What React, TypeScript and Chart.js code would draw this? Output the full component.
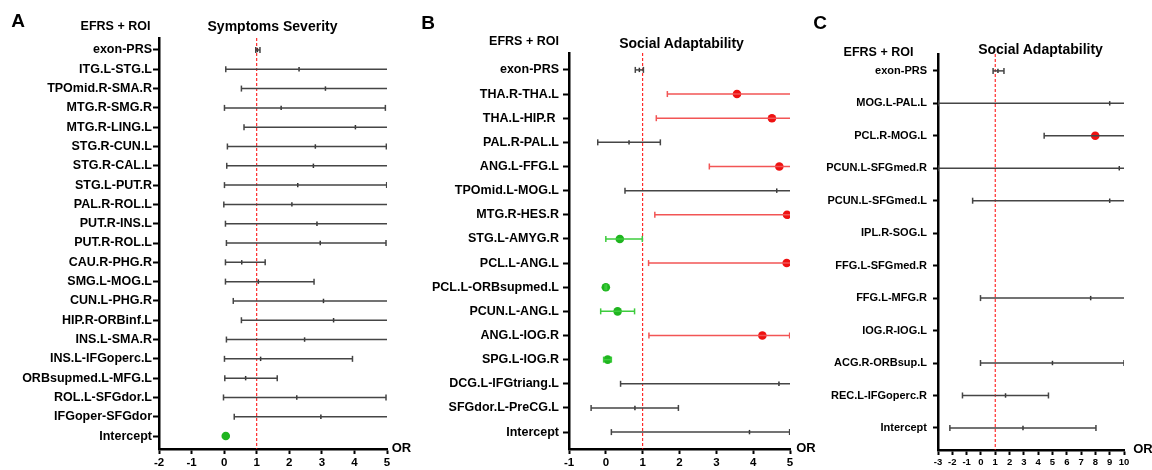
import React, { useEffect, useRef } from "react";
import { Chart, registerables } from "chart.js";
Chart.register(...registerables);

const FONT = "'Liberation Sans', Arial, Helvetica, sans-serif";

// ---------- Panel A : Symptoms Severity ----------
const labelsA = [
  "exon-PRS", "ITG.L-STG.L", "TPOmid.R-SMA.R", "MTG.R-SMG.R", "MTG.R-LING.L",
  "STG.R-CUN.L", "STG.R-CAL.L", "STG.L-PUT.R", "PAL.R-ROL.L", "PUT.R-INS.L",
  "PUT.R-ROL.L", "CAU.R-PHG.R", "SMG.L-MOG.L", "CUN.L-PHG.R", "HIP.R-ORBinf.L",
  "INS.L-SMA.R", "INS.L-IFGoperc.L", "ORBsupmed.L-MFG.L", "ROL.L-SFGdor.L",
  "IFGoper-SFGdor", "Intercept",
];
const orA = [1.02, 2.3, 3.11, 1.75, 4.03, 2.8, 2.74, 2.26, 2.08, 2.85, 2.95, 0.54, 1.05, 3.05, 3.36, 2.47, 1.12, 0.66, 2.23, 2.97, 0.05];
const lowA = [0.97, 0.05, 0.53, 0.01, 0.61, 0.1, 0.08, 0.01, -0.01, 0.04, 0.07, 0.04, 0.04, 0.28, 0.53, 0.07, 0.01, 0.02, -0.02, 0.31, null];
const highA = [1.1, 5.6, 5.6, 4.95, 5.6, 4.98, 5.6, 4.99, 5.6, 5.6, 4.97, 1.26, 2.76, 5.6, 5.6, 5.6, 3.94, 1.63, 4.97, 5.6, null];
const sigA = [0, 0, 0, 0, 0, 0, 0, 0, 0, 0, 0, 0, 0, 0, 0, 0, 0, 0, 0, 0, 2];
const xTicksA = [-2, 5];

// ---------- Panel B : Social Adaptability ----------
const labelsB = [
  "exon-PRS", "THA.R-THA.L", "THA.L-HIP.R ", "PAL.R-PAL.L", "ANG.L-FFG.L",
  "TPOmid.L-MOG.L", "MTG.R-HES.R", "STG.L-AMYG.R", "PCL.L-ANG.L",
  "PCL.L-ORBsupmed.L", "PCUN.L-ANG.L", "ANG.L-IOG.R", "SPG.L-IOG.R",
  "DCG.L-IFGtriang.L", "SFGdor.L-PreCG.L", "Intercept",
];
const orB = [0.91, 3.56, 4.51, 0.63, 4.71, 4.64, 4.92, 0.38, 4.91, 0.0, 0.32, 4.25, 0.05, 4.7, 0.79, 3.9];
const lowB = [0.8, 1.67, 1.37, -0.22, 2.81, 0.52, 1.33, 0.0, 1.16, -0.02, -0.14, 1.17, -0.06, 0.4, -0.4, 0.15];
const highB = [1.02, 5.6, 5.6, 1.48, 5.6, 5.6, 5.6, 0.99, 5.6, 0.02, 0.78, 4.99, 0.15, 5.6, 1.97, 4.99];
const sigB = [0, 1, 1, 0, 1, 0, 1, 2, 1, 2, 2, 1, 2, 0, 0, 0];
const xTicksB = [-1, 5];

// ---------- Panel C : Social Adaptability ----------
const labelsC = [
  "exon-PRS", "MOG.L-PAL.L", "PCL.R-MOG.L", "PCUN.L-SFGmed.R", "PCUN.L-SFGmed.L",
  "IPL.R-SOG.L", "FFG.L-SFGmed.R", "FFG.L-MFG.R", "IOG.R-IOG.L",
  "ACG.R-ORBsup.L", "REC.L-IFGoperc.R", "Intercept",
];
const orC = [1.19, 9.0, 7.99, 9.67, 9.0, null, null, 7.67, null, 5.0, 1.72, 2.94];
const lowC = [0.85, -3.0, 4.42, -3.0, -0.58, null, null, -0.03, null, -0.03, -1.29, -2.17];
const highC = [1.61, 10.23, 10.16, 10.16, 10.06, null, null, 10.13, null, 10.0, 4.72, 8.04];
const sigC = [0, 0, 1, 0, 0, 0, 0, 0, 0, 0, 0, 0];
const xTicksC = [-3, 10];

const refOR = 1;

type PanelData = {
  labels: string[];
  or: (number | null)[];
  low: (number | null)[];
  high: (number | null)[];
  sig: number[];
  xr: number[];
};

type Layout = {
  left: number;
  width: number;
  yAxisW: number;
  xAxisH: number;
  padTop: number;
  padRight: number;
  yMin: number;
  yMax: number;
  yFont: number;
  xFont: number;
  yTickLen: number;
  yPad: number;
  coloredWhiskers: boolean;
};

const WHISKER = ["#454545", "#f25555", "#3dcc3d"];
const DOT = ["#303030", "#ee1111", "#1fb51f"];

function buildConfig(d: PanelData, L: Layout): any {
  const datasets: any[] = [];
  d.labels.forEach((_, i) => {
    const lo = d.low[i];
    const hi = d.high[i];
    if (lo == null || hi == null) return;
    const col = L.coloredWhiskers ? WHISKER[d.sig[i]] : WHISKER[0];
    datasets.push({
      type: "line",
      data: [
        { x: lo, y: i },
        { x: hi, y: i },
      ],
      borderColor: col,
      borderWidth: 1.5,
      showLine: true,
      pointStyle: "line",
      rotation: 90,
      pointRadius: 3,
      pointBorderColor: col,
      pointBackgroundColor: col,
      pointBorderWidth: 1.5,
    });
  });
  datasets.push({
    type: "line",
    data: [
      { x: refOR, y: L.yMin },
      { x: refOR, y: L.yMax },
    ],
    borderColor: "#ff0000",
    borderWidth: 1,
    borderDash: [3, 2],
    pointRadius: 0,
    showLine: true,
  });
  const pts: any[] = [];
  d.labels.forEach((_, i) => {
    const v = d.or[i];
    if (v == null) return;
    pts.push({ x: v, y: i, s: d.sig[i] });
  });
  datasets.push({
    type: "scatter",
    data: pts,
    pointStyle: (c: any) => (c.raw && c.raw.s ? "circle" : "line"),
    rotation: 90,
    pointRadius: (c: any) => (c.raw && c.raw.s ? 4.3 : 2.2),
    backgroundColor: (c: any) => DOT[c.raw ? c.raw.s : 0],
    borderColor: (c: any) => DOT[c.raw ? c.raw.s : 0],
    borderWidth: (c: any) => (c.raw && c.raw.s ? 0 : 1.5),
  });

  return {
    type: "scatter",
    data: { datasets },
    options: {
      responsive: false,
      animation: false,
      events: [],
      layout: { padding: { top: L.padTop, right: L.padRight, left: 0, bottom: 0 } },
      plugins: { legend: { display: false }, tooltip: { enabled: false } },
      scales: {
        x: {
          type: "linear",
          min: d.xr[0],
          max: d.xr[1],
          ticks: {
            stepSize: 1,
            color: "#000",
            padding: 2,
            maxRotation: 0,
            autoSkip: false,
            font: { family: FONT, size: L.xFont, weight: "bold" },
          },
          grid: {
            drawOnChartArea: false,
            drawTicks: true,
            tickLength: 5,
            tickColor: "#000",
            tickWidth: 2,
          },
          border: { color: "#000", width: 2.5 },
          afterFit: (s: any) => {
            s.height = L.xAxisH;
          },
        },
        y: {
          type: "linear",
          reverse: true,
          min: L.yMin,
          max: L.yMax,
          afterBuildTicks: (axis: any) => {
            axis.ticks = d.labels.map((_, i) => ({ value: i }));
          },
          ticks: {
            autoSkip: false,
            color: "#000",
            padding: L.yPad,
            font: { family: FONT, size: L.yFont, weight: "bold" },
            callback: (v: any) => d.labels[v] ?? "",
          },
          grid: {
            drawOnChartArea: false,
            drawTicks: true,
            tickLength: L.yTickLen,
            tickColor: "#000",
            tickWidth: 2,
          },
          border: { color: "#000", width: 2.5 },
          afterFit: (s: any) => {
            s.width = L.yAxisW;
          },
        },
      },
    },
  };
}

function Panel({ d, L }: { d: PanelData; L: Layout }) {
  const ref = useRef<HTMLCanvasElement | null>(null);
  useEffect(() => {
    if (!ref.current) return;
    const chart = new Chart(ref.current, buildConfig(d, L));
    return () => chart.destroy();
  }, []);
  return (
    <canvas
      ref={ref}
      width={L.width}
      height={470}
      style={{ position: "absolute", left: L.left, top: 0, width: L.width, height: 470 }}
    />
  );
}

function Txt({ x, y, size, children }: { x: number; y: number; size: number; children: any }) {
  return (
    <div
      style={{
        position: "absolute",
        left: x,
        top: y,
        transform: "translate(-50%, -50%)",
        fontFamily: FONT,
        fontWeight: "bold",
        fontSize: size,
        lineHeight: 1,
        whiteSpace: "nowrap",
        color: "#000",
      }}
    >
      {children}
    </div>
  );
}

const layoutA: Layout = {
  left: 0, width: 400, yAxisW: 159, xAxisH: 21, padTop: 38, padRight: 13,
  yMin: -0.62, yMax: 20.67, yFont: 12.5, xFont: 11.5, yTickLen: 6, yPad: 1, coloredWhiskers: true,
};
const layoutB: Layout = {
  left: 400, width: 400, yAxisW: 169, xAxisH: 21, padTop: 53, padRight: 10,
  yMin: -0.7, yMax: 15.7, yFont: 12.5, xFont: 11.5, yTickLen: 6, yPad: 4, coloredWhiskers: true,
};
const layoutC: Layout = {
  left: 800, width: 352, yAxisW: 138, xAxisH: 20, padTop: 54, padRight: 28,
  yMin: -0.52, yMax: 11.68, yFont: 11, xFont: 9.5, yTickLen: 5, yPad: 6, coloredWhiskers: false,
};

export default function App() {
  const A: PanelData = { labels: labelsA, or: orA, low: lowA, high: highA, sig: sigA, xr: xTicksA };
  const B: PanelData = { labels: labelsB, or: orB, low: lowB, high: highB, sig: sigB, xr: xTicksB };
  const C: PanelData = { labels: labelsC, or: orC, low: lowC, high: highC, sig: sigC, xr: xTicksC };
  return (
    <div style={{ position: "fixed", left: 0, top: 0, width: 1152, height: 470, background: "#fff", overflow: "hidden" }}>
      <Panel d={A} L={layoutA} />
      <Panel d={B} L={layoutB} />
      <Panel d={C} L={layoutC} />
      <Txt x={18} y={20} size={19}>A</Txt>
      <Txt x={115.5} y={26} size={12.5}>EFRS + ROI</Txt>
      <Txt x={272.5} y={26} size={14}>Symptoms Severity</Txt>
      <Txt x={401.5} y={447} size={13}>OR</Txt>
      <Txt x={428} y={21.5} size={19}>B</Txt>
      <Txt x={524} y={41} size={12.5}>EFRS + ROI</Txt>
      <Txt x={681.5} y={43} size={14}>Social Adaptability</Txt>
      <Txt x={806} y={447} size={13}>OR</Txt>
      <Txt x={820} y={22} size={19}>C</Txt>
      <Txt x={878.5} y={52} size={12.5}>EFRS + ROI</Txt>
      <Txt x={1040.5} y={49} size={14}>Social Adaptability</Txt>
      <Txt x={1143} y={448} size={13}>OR</Txt>
    </div>
  );
}
